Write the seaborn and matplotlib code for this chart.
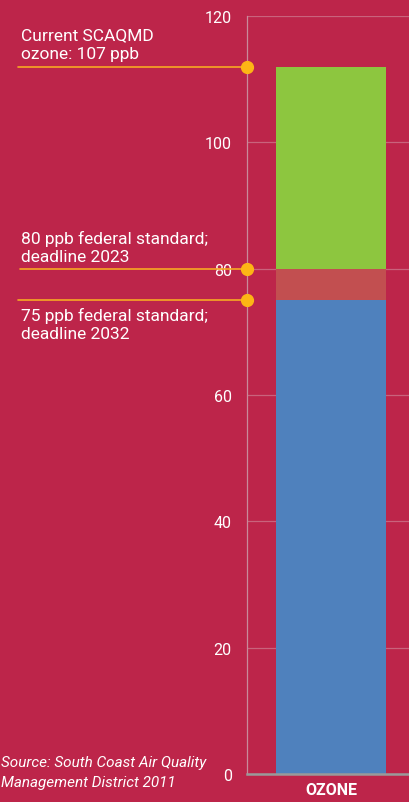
import numpy as np
import pandas as pd
import seaborn as sns
import matplotlib.pyplot as plt
import matplotlib.transforms as mtransforms

# ozone bar, stacked: below 75 / 75-80 / above 80 (ppb)
category = ["OZONE"]
segment_values = [75, 5, 32]
segment_colors = ["#4F81BD", "#C24F50", "#8DC63F"]
yticks = [0, 20, 40, 60, 80, 100, 120]

marker_values = [112, 80, 75]
marker_labels = ["Current SCAQMD\nozone: 107 ppb",
                 "80 ppb federal standard;\ndeadline 2023",
                 "75 ppb federal standard;\ndeadline 2032"]
source_text = "Source: South Coast Air Quality\nManagement District 2011"

bg = "#BD254A"
sns.set_style("white")
plt.rcParams['font.family'] = ['Roboto', 'DejaVu Sans']

fig = plt.figure(figsize=(4.09, 8.03), dpi=100, facecolor=bg)
ax = fig.add_axes([247/409, 28/803, 162/409, 758/803])
ax.set_facecolor(bg)

# stacked bar = overlapping cumulative bars, tallest first
tops = np.cumsum(segment_values)
for top, col in zip(tops[::-1], segment_colors[::-1]):
    df = pd.DataFrame({"cat": category, "val": [top]})
    sns.barplot(data=df, x="cat", y="val", color=col, saturation=1,
                width=0.815, linewidth=0, ax=ax, zorder=2)

ax.set_xlim(-0.622, 0.578)
ax.set_ylim(0, 120)
ax.set_yticks(yticks)
ax.set_xlabel("")
ax.set_ylabel("")
ax.yaxis.grid(True, color="#C9637C", linewidth=0.9, zorder=0)
ax.set_axisbelow(True)
ax.tick_params(axis="y", length=0, pad=11, labelsize=11.5, labelcolor="white")
ax.tick_params(axis="x", length=0, pad=6, labelsize=11.5, labelcolor="white")
for lab in ax.get_xticklabels():
    lab.set_fontweight("bold")
for s in ["top", "right"]:
    ax.spines[s].set_visible(False)
ax.spines["left"].set_color("#C98A9A")
ax.spines["left"].set_linewidth(0.9)
ax.spines["bottom"].set_color("#9A9A9A")
ax.spines["bottom"].set_linewidth(1.8)

# annotation lines and dots
tr = mtransforms.blended_transform_factory(fig.transFigure, ax.transData)
starts = [18, 20, 18]
for v, x0 in zip(marker_values, starts):
    ax.plot([x0/409, 247/409], [v, v], transform=tr, color="#F7A823",
            linewidth=1.2, clip_on=False, zorder=5)
    ax.plot([247/409], [v], transform=tr, marker="o", markersize=8.5,
            color="#FDB515", clip_on=False, zorder=6)

label_y = [45, 248, 325]
for txt, yp in zip(marker_labels, label_y):
    fig.text(21/409, 1 - yp/803, txt, color="white", fontsize=12.5,
             va="center", ha="left", linespacing=1.3)

fig.text(1/409, 1 - 773/803, source_text, color="white", fontsize=11,
         style="italic", va="center", ha="left", linespacing=1.5)

fig.savefig("out.png", dpi=100, facecolor=bg)
